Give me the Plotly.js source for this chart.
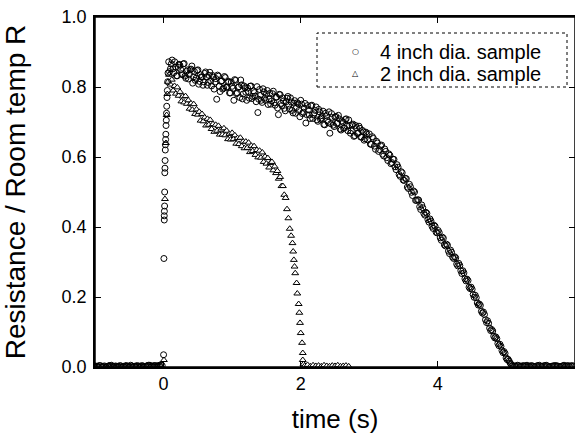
<!DOCTYPE html>
<html>
<head>
<meta charset="utf-8">
<script src="https://cdn.plot.ly/plotly-3.0.1.min.js"></script>
<style>html,body{margin:0;padding:0;background:#fff;}#chart{width:575px;height:434px;}</style>
</head>
<body>
<div id="chart"></div>
<script>
// ---- 4 inch dia. sample (circles) ----
const t4Before = [-1.00,-0.98,-0.96,-0.94,-0.92,-0.90,-0.88,-0.86,-0.84,-0.82,-0.80,-0.78,-0.76,-0.74,-0.72,-0.70,-0.68,-0.66,-0.64,-0.62,-0.60,-0.58,-0.56,-0.54,-0.52,-0.50,-0.48,-0.46,-0.44,-0.42,-0.40,-0.38,-0.36,-0.34,-0.32,-0.30,-0.28,-0.26,-0.24,-0.22,-0.20,-0.18,-0.16,-0.14,-0.12,-0.10,-0.08,-0.06,-0.04,-0.02];
const r4Before = [0.003,0.002,0.001,0.004,0.004,0.001,0.002,0.003,0.000,0.002,0.003,0.004,0.005,0.002,0.001,0.003,0.002,0.001,0.004,0.003,0.000,0.002,0.003,0.004,0.002,0.001,0.005,0.003,0.001,0.002,0.003,0.004,0.002,0.001,0.004,0.003,0.001,0.002,0.003,0.005,0.005,0.002,0.002,0.004,0.004,0.003,0.003,0.005,0.006,0.004];
const t4Rise = [0.000,0.005,0.010,0.010,0.012,0.015,0.016,0.018,0.020,0.022,0.025,0.027,0.030,0.033,0.036,0.040,0.043,0.046,0.050,0.055,0.060,0.065];
const r4Rise = [0.035,0.310,0.420,0.432,0.445,0.460,0.500,0.555,0.568,0.590,0.620,0.635,0.650,0.665,0.690,0.705,0.725,0.745,0.770,0.790,0.815,0.840];
const t4PlateauA = [0.075,0.1,0.125,0.15,0.175,0.2,0.225,0.25,0.275,0.3,0.325,0.35,0.375,0.4,0.425,0.45,0.475,0.5,0.525,0.55,0.575,0.6,0.625,0.65,0.675,0.7,0.725,0.75,0.775,0.8,0.825,0.85,0.875,0.9,0.925,0.95,0.975,1.0,1.025,1.05,1.075,1.1,1.125,1.15,1.175,1.2,1.225,1.25,1.275,1.3,1.325,1.35,1.375,1.4,1.425,1.45,1.475,1.5,1.525,1.55,1.575,1.6,1.625,1.65,1.675,1.7,1.725,1.75,1.775,1.8,1.825,1.85,1.875,1.9,1.925,1.95,1.975,2.0,2.025,2.05,2.075,2.1,2.125,2.15,2.175,2.2,2.225,2.25,2.275,2.3,2.325,2.35,2.375,2.4,2.425,2.45,2.475,2.5,2.525,2.55,2.575,2.6,2.625,2.65,2.675,2.7,2.725,2.75,2.775,2.8,2.825,2.85,2.875,2.9,2.925,2.95,2.975];
const r4PlateauA = [0.872,0.852,0.877,0.841,0.857,0.832,0.865,0.849,0.835,0.867,
0.825,0.849,0.836,0.851,0.811,0.844,0.825,0.849,0.816,0.829,
0.805,0.839,0.829,0.813,0.842,0.803,0.828,0.814,0.765,0.831,
0.787,0.818,0.797,0.827,0.800,0.816,0.783,0.802,0.762,0.819,
0.783,0.801,0.820,0.766,0.803,0.785,0.797,0.768,0.803,0.773,
0.784,0.758,0.727,0.793,0.762,0.795,0.768,0.780,0.750,0.782,
0.760,0.788,0.748,0.771,0.721,0.778,0.747,0.760,0.732,0.768,
0.748,0.769,0.733,0.754,0.725,0.755,0.733,0.762,0.724,0.740,
0.697,0.747,0.720,0.746,0.710,0.726,0.743,0.702,0.729,0.711,
0.731,0.692,0.718,0.699,0.668,0.724,0.691,0.714,0.696,0.719,
0.680,0.703,0.682,0.707,0.688,0.706,0.668,0.691,0.659,0.690,
0.667,0.688,0.657,0.676,0.648,0.671,0.649];
const t4PlateauB = [0.0875,0.1125,0.1375,0.1625,0.1875,0.2125,0.2375,0.2625,0.2875,0.3125,0.3375,0.3625,0.3875,0.4125,0.4375,0.4625,0.4875,0.5125,0.5375,0.5625,0.5875,0.6125,0.6375,0.6625,0.6875,0.7125,0.7375,0.7625,0.7875,0.8125,0.8375,0.8625,0.8875,0.9125,0.9375,0.9625,0.9875,1.0125,1.0375,1.0625,1.0875,1.1125,1.1375,1.1625,1.1875,1.2125,1.2375,1.2625,1.2875,1.3125,1.3375,1.3625,1.3875,1.4125,1.4375,1.4625,1.4875,1.5125,1.5375,1.5625,1.5875,1.6125,1.6375,1.6625,1.6875,1.7125,1.7375,1.7625,1.7875,1.8125,1.8375,1.8625,1.8875,1.9125,1.9375,1.9625,1.9875,2.0125,2.0375,2.0625,2.0875,2.1125,2.1375,2.1625,2.1875,2.2125,2.2375,2.2625,2.2875,2.3125,2.3375,2.3625,2.3875,2.4125,2.4375,2.4625,2.4875,2.5125,2.5375,2.5625,2.5875,2.6125,2.6375,2.6625,2.6875,2.7125,2.7375,2.7625,2.7875,2.8125,2.8375,2.8625,2.8875,2.9125,2.9375,2.9625];
const r4PlateauB = [0.844,0.866,0.852,0.872,0.832,0.856,0.862,0.838,0.866,0.831,
0.845,0.823,0.849,0.860,0.829,0.819,0.847,0.808,0.835,0.828,
0.815,0.843,0.805,0.833,0.817,0.833,0.794,0.824,0.834,0.802,
0.816,0.794,0.830,0.799,0.814,0.783,0.814,0.796,0.821,0.781,
0.799,0.770,0.806,0.780,0.798,0.762,0.787,0.802,0.767,0.789,
0.774,0.801,0.765,0.776,0.756,0.786,0.762,0.790,0.766,0.751,
0.781,0.755,0.771,0.740,0.779,0.753,0.769,0.739,0.758,0.773,
0.737,0.757,0.726,0.761,0.742,0.752,0.715,0.751,0.728,0.753,
0.721,0.735,0.710,0.748,0.721,0.733,0.706,0.736,0.708,0.718,
0.693,0.725,0.704,0.729,0.695,0.713,0.687,0.716,0.697,0.709,
0.677,0.700,0.683,0.709,0.675,0.690,0.675,0.694,0.661,0.684,
0.668,0.682,0.657,0.672,0.652,0.667];
const t4FallA = [3.00,3.03,3.06,3.09,3.12,3.15,3.18,3.21,3.24,3.27,3.30,3.33,3.36,3.39,3.42,3.45,3.48,3.51,3.54,3.57,3.60,3.63,3.66,3.69,3.72,3.75,3.78,3.81,3.84,3.87,3.90,3.93,3.96,3.99,4.02,4.05,4.08,4.11,4.14,4.17,4.20,4.23,4.26,4.29,4.32,4.35,4.38,4.41,4.44,4.47,4.50,4.53,4.56,4.59,4.62,4.65,4.68,4.71,4.74,4.77,4.80,4.83,4.86,4.89,4.92,4.95,4.98,5.01,5.04,5.07,5.10];
const r4FallA = [0.666,0.636,0.653,0.622,0.640,0.621,0.634,0.603,0.616,0.590,
0.605,0.584,0.593,0.564,0.571,0.545,0.555,0.533,0.538,0.510,
0.515,0.490,0.500,0.476,0.477,0.450,0.455,0.434,0.439,0.414,
0.417,0.396,0.402,0.383,0.384,0.362,0.368,0.346,0.348,0.324,
0.328,0.310,0.312,0.289,0.290,0.267,0.269,0.246,0.247,0.224,
0.222,0.199,0.198,0.177,0.176,0.154,0.150,0.127,0.125,0.104,
0.103,0.083,0.081,0.061,0.059,0.041,0.039,0.021,0.017,0.007,
0.002];
const t4FallB = [3.015,3.045,3.075,3.105,3.135,3.165,3.195,3.225,3.255,3.285,3.315,3.345,3.375,3.405,3.435,3.465,3.495,3.525,3.555,3.585,3.615,3.645,3.675,3.705,3.735,3.765,3.795,3.825,3.855,3.885,3.915,3.945,3.975,4.005,4.035,4.065,4.095,4.125,4.155,4.185,4.215,4.245,4.275,4.305,4.335,4.365,4.395,4.425,4.455,4.485,4.515,4.545,4.575,4.605,4.635,4.665,4.695,4.725,4.755,4.785,4.815,4.845,4.875,4.905,4.935,4.965,4.995,5.025,5.055,5.085];
const r4FallB = [0.637,0.658,0.631,0.645,0.616,0.632,0.608,0.623,0.598,0.609,
0.581,0.594,0.572,0.578,0.550,0.558,0.534,0.539,0.514,0.522,
0.499,0.503,0.476,0.478,0.458,0.463,0.439,0.442,0.421,0.423,
0.402,0.405,0.385,0.390,0.369,0.371,0.349,0.351,0.331,0.334,
0.314,0.315,0.294,0.296,0.275,0.275,0.252,0.251,0.228,0.228,
0.207,0.205,0.183,0.180,0.159,0.157,0.135,0.132,0.111,0.107,
0.088,0.086,0.067,0.065,0.047,0.044,0.026,0.022,0.011,0.004];
const t4After = [5.12,5.14,5.16,5.18,5.20,5.22,5.24,5.26,5.28,5.30,5.32,5.34,5.36,5.38,5.40,5.42,5.44,5.46,5.48,5.50,5.52,5.54,5.56,5.58,5.60,5.62,5.64,5.66,5.68,5.70,5.72,5.74,5.76,5.78,5.80,5.82,5.84,5.86,5.88,5.90,5.92,5.94,5.96,5.98];
const r4After = [0.003,0.002,0.005,0.004,0.002,0.001,0.004,0.003,0.003,0.005,0.001,0.002,0.004,0.003,0.002,0.001,0.003,0.004,0.005,0.002,0.002,0.003,0.004,0.005,0.003,0.001,0.001,0.002,0.003,0.004,0.004,0.003,0.002,0.001,0.002,0.003,0.005,0.002,0.003,0.004,0.002,0.003,0.004,0.002];

// ---- 2 inch dia. sample (triangles) ----
const t2Before = [-1.00,-0.95,-0.90,-0.85,-0.80,-0.75,-0.70,-0.65,-0.60,-0.55,-0.50,-0.45,-0.40,-0.35,-0.30,-0.25,-0.20,-0.15,-0.10,-0.05];
const r2Before = [0.001,0.003,0.002,0.000,0.004,0.002,0.001,0.003,0.002,0.004,0.001,0.002,0.003,0.000,0.002,0.004,0.001,0.003,0.002,0.005];
const t2Rise = [0.005,0.020,0.035,0.045,0.055,0.065];
const r2Rise = [0.020,0.480,0.640,0.720,0.780,0.815];
const t2Decay = [0.08,0.10,0.12,0.14,0.16,0.18,0.20,0.22,0.24,0.26,0.28,0.30,0.32,0.34,0.36,0.38,0.40,0.42,0.44,0.46,0.48,0.50,0.52,0.54,0.56,0.58,0.60,0.62,0.64,0.66,0.68,0.70,0.72,0.74,0.76,0.78,0.80,0.82,0.84,0.86,0.88,0.90,0.92,0.94,0.96,0.98,1.00,1.02,1.04,1.06,1.08,1.10,1.12,1.14,1.16,1.18,1.20,1.22,1.24,1.26,1.28,1.30,1.32,1.34,1.36,1.38,1.40,1.42,1.44,1.46,1.48,1.50,1.52,1.54,1.56,1.58,1.60,1.62,1.64,1.66,1.68,1.70,1.72,1.74,1.76,1.78,1.80,1.82];
const r2Decay = [0.835,0.807,0.821,0.790,0.803,0.781,0.799,0.775,0.786,0.759,
0.773,0.756,0.774,0.752,0.762,0.738,0.753,0.735,0.751,0.723,
0.736,0.721,0.729,0.704,0.723,0.702,0.713,0.690,0.709,0.692,
0.706,0.680,0.694,0.672,0.692,0.675,0.689,0.664,0.678,0.664,
0.682,0.662,0.675,0.651,0.666,0.650,0.669,0.651,0.662,0.638,
0.654,0.637,0.655,0.631,0.644,0.625,0.644,0.626,0.641,0.614,
0.632,0.617,0.631,0.606,0.620,0.599,0.618,0.598,0.613,0.586,
0.601,0.581,0.597,0.570,0.583,0.586,0.562,0.573,0.554,0.560,
0.538,0.543,0.517,0.517,0.492,0.483,0.451,0.425];
const t2Drop = [1.84,1.86,1.88,1.89,1.90,1.91,1.92,1.94,1.95,1.97,1.98,1.99,2.00,2.02,2.03,2.03,2.04];
const r2Drop = [0.395,0.375,0.354,0.330,0.306,0.287,0.268,0.240,0.210,0.180,0.155,0.126,0.097,0.069,0.040,0.020,0.008];
const t2After = [2.06,2.10,2.14,2.18,2.22,2.26,2.30,2.34,2.38,2.42,2.46,2.50,2.54,2.58,2.62,2.66,2.70];
const r2After = [0.004,0.006,0.002,0.005,0.003,0.004,0.002,0.005,0.003,0.002,0.004,0.003,0.005,0.002,0.003,0.004,0.002];

const seriesNames = ['4 inch dia. sample', '2 inch dia. sample'];
const seriesSymbols = ['circle-open', 'triangle-up'];
const xTitle = 'time (s)';
const yTitle = 'Resistance / Room temp R';

const t4 = [].concat(t4Before, t4Rise, t4PlateauA, t4PlateauB, t4FallA, t4FallB, t4After);
const r4 = [].concat(r4Before, r4Rise, r4PlateauA, r4PlateauB, r4FallA, r4FallB, r4After);
const t2 = [].concat(t2Before, t2Rise, t2Decay, t2Drop, t2After);
const r2 = [].concat(r2Before, r2Rise, r2Decay, r2Drop, r2After);

// one scatter trace holding both samples (triangles first, circles on top)
const allT = [].concat(t2, t4);
const allR = [].concat(r2, r4);
const allSym = t2.map(() => seriesSymbols[1]).concat(t4.map(() => seriesSymbols[0]));
const allFill = t2.map(() => '#fff').concat(t4.map(() => '#000'));
const allText = t2.map(() => seriesNames[1]).concat(t4.map(() => seriesNames[0]));

const FONT = 'Liberation Sans, Arial, Helvetica, sans-serif';

const traces = [
  {x: allT, y: allR, text: allText, mode: 'markers', name: 'samples', showlegend: false,
   marker: {symbol: allSym, size: 6, color: allFill, line: {width: 1, color: '#000'}}}
];

const majorAxis = {
  showline: true, linecolor: '#000', linewidth: 1.5, mirror: 'ticks',
  ticks: 'inside', ticklen: 6, tickcolor: '#000',
  showgrid: false, zeroline: false,
  tickfont: {family: FONT, size: 18, color: '#000'}
};
const minorAxis = {
  showline: false, mirror: 'ticks', ticks: 'inside', ticklen: 3,
  tickcolor: '#000', showgrid: false, zeroline: false, showticklabels: false
};

function px2x(p) { return (p - 95) / 480; }
function px2y(p) { return 1 - (p - 17) / 350; }

const layout = {
  width: 575, height: 434,
  margin: {l: 95, r: 0, t: 17, b: 67},
  paper_bgcolor: '#fff', plot_bgcolor: '#fff',
  font: {family: FONT, color: '#000'},
  showlegend: false,
  xaxis: Object.assign({}, majorAxis, {
    range: [-1, 6], tickmode: 'linear', tick0: 0, dtick: 2,
    title: {text: xTitle, font: {family: FONT, size: 26, color: '#000'}}
  }),
  yaxis: Object.assign({}, majorAxis, {
    range: [0, 1], tickmode: 'linear', tick0: 0, dtick: 0.2, tickformat: '.1f',
    ticklabelstandoff: 3,
    title: {text: yTitle, standoff: 30, font: {family: FONT, size: 28, color: '#000'}}
  }),
  xaxis2: Object.assign({}, minorAxis, {
    overlaying: 'x', side: 'bottom', anchor: 'y2', range: [-1, 6],
    tickmode: 'linear', tick0: 1, dtick: 2
  }),
  yaxis2: Object.assign({}, minorAxis, {
    overlaying: 'y', side: 'left', anchor: 'x2', range: [0, 1],
    tickmode: 'linear', tick0: 0.1, dtick: 0.2
  }),
  annotations: [
    {xref: 'paper', yref: 'paper', x: px2x(378), y: px2y(52), xanchor: 'left', yanchor: 'middle',
     text: seriesNames[0], showarrow: false, font: {family: FONT, size: 20, color: '#000'}},
    {xref: 'paper', yref: 'paper', x: px2x(378), y: px2y(74), xanchor: 'left', yanchor: 'middle',
     text: seriesNames[1], showarrow: false, font: {family: FONT, size: 20, color: '#000'}},
    {xref: 'paper', yref: 'paper', x: px2x(355), y: px2y(52), xanchor: 'center', yanchor: 'middle',
     text: '\u25CB', showarrow: false, font: {family: 'DejaVu Sans', size: 8, color: '#000'}},
    {xref: 'paper', yref: 'paper', x: px2x(355), y: px2y(73), xanchor: 'center', yanchor: 'middle',
     text: '\u25B3', showarrow: false, font: {family: 'DejaVu Sans', size: 8, color: '#000'}}
  ],
  shapes: [
    {type: 'rect', xref: 'paper', yref: 'paper', x0: 0, x1: 1, y0: 0, y1: 1,
     line: {color: '#000', width: 1.5}, fillcolor: 'rgba(0,0,0,0)'},
    {type: 'rect', xref: 'paper', yref: 'paper',
     x0: px2x(317), x1: px2x(567), y0: px2y(87), y1: px2y(33),
     line: {color: '#000', width: 1, dash: 'dot'}, fillcolor: 'rgba(0,0,0,0)'}
  ]
};

Plotly.newPlot('chart', traces, layout, {displayModeBar: false});
</script>
</body>
</html>
